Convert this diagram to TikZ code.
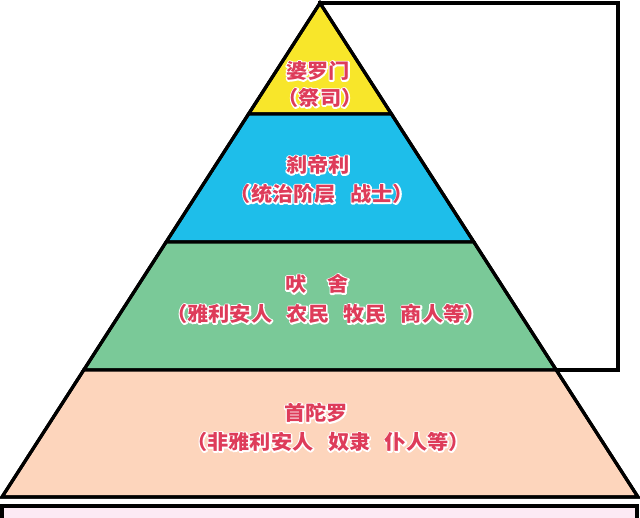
\documentclass[tikz,border=0pt]{standalone}
\usepackage{fontspec}
\newfontfamily\cjk[WordSpace=3,FakeStretch=1.06]{Noto Sans CJK SC}
\usetikzlibrary{calc}
\definecolor{brahminyellow}{RGB}{248,230,42}
\definecolor{kshatriyablue}{RGB}{30,190,234}
\definecolor{vaishyagreen}{RGB}{122,201,152}
\definecolor{shudrapeach}{RGB}{253,213,188}
\definecolor{strippink}{RGB}{252,234,244}
\definecolor{castered}{RGB}{222,60,90}
% white rim round the red letters
\newcommand{\halotext}[1]{\makebox[0pt][l]{\color{white}\special{pdf:literal direct 1 Tr 2.8 w 1 j}#1\special{pdf:literal direct 0 Tr}}#1}
\tikzstyle{every path}=[line width=3.2pt,line join=miter]
\tikzstyle{band}=[draw=black]
\tikzstyle{castetext}=[font=\cjk\bfseries\fontsize{20}{20}\selectfont,text=castered,inner sep=0pt]

\begin{document}
\begin{tikzpicture}[x=1pt,y=-1pt]
\useasboundingbox (0,0) rectangle (640,517);

\coordinate (apex) at (320,3);
\coordinate (bl) at (2,497);
\coordinate (br) at (638,497);
\coordinate (l1) at ($(apex)!0.2247!(bl)$);
\coordinate (r1) at ($(apex)!0.2247!(br)$);
\coordinate (l2) at ($(apex)!0.4838!(bl)$);
\coordinate (r2) at ($(apex)!0.4838!(br)$);
\coordinate (l3) at ($(apex)!0.7429!(bl)$);
\coordinate (r3) at ($(apex)!0.7429!(br)$);

\draw [fill=white] (320,3) rectangle (618,370);
\draw [fill=strippink] (2,506) rectangle (637,530);

\draw [band,fill=brahminyellow] (apex) -- (r1) -- (l1) -- cycle;
\draw [band,fill=kshatriyablue] (l1) -- (r1) -- (r2) -- (l2) -- cycle;
\draw [band,fill=vaishyagreen] (l2) -- (r2) -- (r3) -- (l3) -- cycle;
\draw [band,fill=shudrapeach] (l3) -- (r3) -- (br) -- (bl) -- cycle;
\draw [band] (apex) -- (br) -- (bl) -- cycle;

\node [castetext] (brahmin) at (318,71) {\halotext{婆罗门}};
\node [castetext] (brahminsub) at (320,98) {\halotext{（祭司）}};
\node [castetext] (kshatriya) at (318,165) {\halotext{刹帝利}};
\node [castetext] (kshatriyasub) at (322,194) {\halotext{（统治阶层 战士）}};
\node [castetext] (vaishya) at (317,284) {\halotext{吠　舍}};
\node [castetext] (vaishyasub) at (326,314) {\halotext{（雅利安人 农民 牧民 商人等）}};
\node [castetext] (shudra) at (316,413) {\halotext{首陀罗}};
\node [castetext] (shudrasub) at (328,442) {\halotext{（非雅利安人 奴隶 仆人等）}};
\end{tikzpicture}
\end{document}
